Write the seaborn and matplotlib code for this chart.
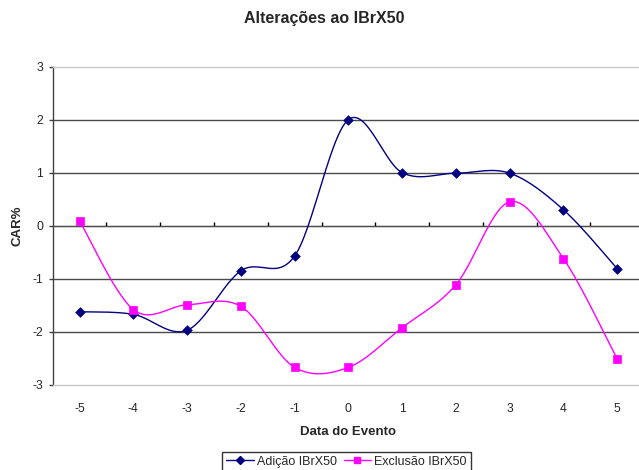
import numpy as np
import pandas as pd
import matplotlib
matplotlib.use("Agg")
import matplotlib.pyplot as plt
from matplotlib.lines import Line2D
import seaborn as sns

# ==== dados ====
dias = [-5, -4, -3, -2, -1, 0, 1, 2, 3, 4, 5]
adicao = [-1.62, -1.67, -1.97, -0.85, -0.57, 2.00, 1.00, 0.99, 0.99, 0.30, -0.81]
exclusao = [0.09, -1.58, -1.49, -1.52, -2.67, -2.67, -1.92, -1.11, 0.45, -0.62, -2.51]
nomes = ["Adição IBrX50", "Exclusão IBrX50"]
cores = ["#000080", "#FF00FF"]
marcadores = ["D", "s"]


# ==== suavização tipo Excel (Bezier / Catmull-Rom) ====
def suavizar(x, y, n=30):
    x = np.asarray(x, float)
    y = np.asarray(y, float)
    px = np.concatenate([[x[0]], x, [x[-1]]])
    py = np.concatenate([[y[0]], y, [y[-1]]])
    xs, ys = [], []
    t = np.linspace(0, 1, n)
    for i in range(1, len(px) - 2):
        p0 = np.array([px[i], py[i]])
        p3 = np.array([px[i + 1], py[i + 1]])
        p1 = p0 + (np.array([px[i + 1], py[i + 1]]) - np.array([px[i - 1], py[i - 1]])) / 6
        p2 = p3 - (np.array([px[i + 2], py[i + 2]]) - np.array([px[i], py[i]])) / 6
        b = ((1 - t) ** 3)[:, None] * p0 + (3 * (1 - t) ** 2 * t)[:, None] * p1 \
            + (3 * (1 - t) * t ** 2)[:, None] * p2 + (t ** 3)[:, None] * p3
        xs.extend(b[:, 0])
        ys.extend(b[:, 1])
    return np.array(xs), np.array(ys)


sns.set_style("white")
plt.rcParams["font.family"] = ["Liberation Sans", "DejaVu Sans"]
plt.rcParams["axes.unicode_minus"] = False

fig = plt.figure(figsize=(6.39, 4.70), dpi=100)
ax = fig.add_axes([0.0825, 0.181, 0.9255, 0.6775])

for serie, nome, cor, mk in zip([adicao, exclusao], nomes, cores, marcadores):
    sx, sy = suavizar(dias, serie)
    curva = pd.DataFrame({"x": sx, "y": sy})
    sns.lineplot(data=curva, x="x", y="y", ax=ax, color=cor, lw=1.0,
                 sort=False, estimator=None, zorder=3)
    pts = pd.DataFrame({"x": dias, "y": serie})
    sns.scatterplot(data=pts, x="x", y="y", ax=ax, color=cor, marker=mk,
                    s=26 if mk == "s" else 24, edgecolor=cor, linewidth=0.5, zorder=4)

ax.set_xlim(dias[0] - 0.5, dias[-1] + 0.5)
ax.set_ylim(-3, 3)
ax.set_yticks(range(-3, 4))
ax.set_xticks(dias)
ax.set_xticklabels([str(d) for d in dias])
for yv in range(-2, 3):
    ax.axhline(yv, color="#4a4a4a", lw=1.0, zorder=1)

ax.tick_params(axis="x", length=0, pad=13, labelsize=8.7)
ax.tick_params(axis="y", length=3, width=1, direction="out", color="#404040",
               pad=4, labelsize=8.7, left=True)
for lado in ["top", "bottom"]:
    ax.spines[lado].set_color("#c8c8c8")
    ax.spines[lado].set_linewidth(1)
ax.spines["right"].set_visible(False)
ax.spines["left"].set_color("#404040")
ax.spines["left"].set_linewidth(1)

# eixo das categorias cruzando em zero
eixo0 = ax.secondary_xaxis(0.5)
eixo0.set_xticks([d + 0.5 for d in dias[:-1]])
eixo0.set_xticklabels([])
eixo0.tick_params(length=3, width=1, direction="out", color="#000000")
eixo0.spines["bottom"].set_color("#000000")
eixo0.spines["bottom"].set_linewidth(1)

ax.set_xlabel("Data do Evento", fontsize=9.5, fontweight="bold", labelpad=8)
ax.set_ylabel("CAR%", fontsize=9.5, fontweight="bold", labelpad=6)
fig.suptitle("Alterações ao IBrX50", fontsize=11.5, fontweight="bold", x=0.507, y=0.977)

handles = [Line2D([0], [0], color=c, marker=m, lw=1, markersize=4.5 if m == "D" else 5,
                  markeredgecolor=c) for c, m in zip(cores, marcadores)]
leg = fig.legend(handles, nomes, loc="upper center", bbox_to_anchor=(346.5 / 639, 1 - 452 / 470),
                 ncol=2, fontsize=9, frameon=True, fancybox=False, shadow=False,
                 handlelength=2.2, columnspacing=0.55, handletextpad=0.25, borderpad=0.3,
                 borderaxespad=0)
leg.get_frame().set_edgecolor("black")
leg.get_frame().set_linewidth(1)

fig.savefig("out.png", dpi=100)
